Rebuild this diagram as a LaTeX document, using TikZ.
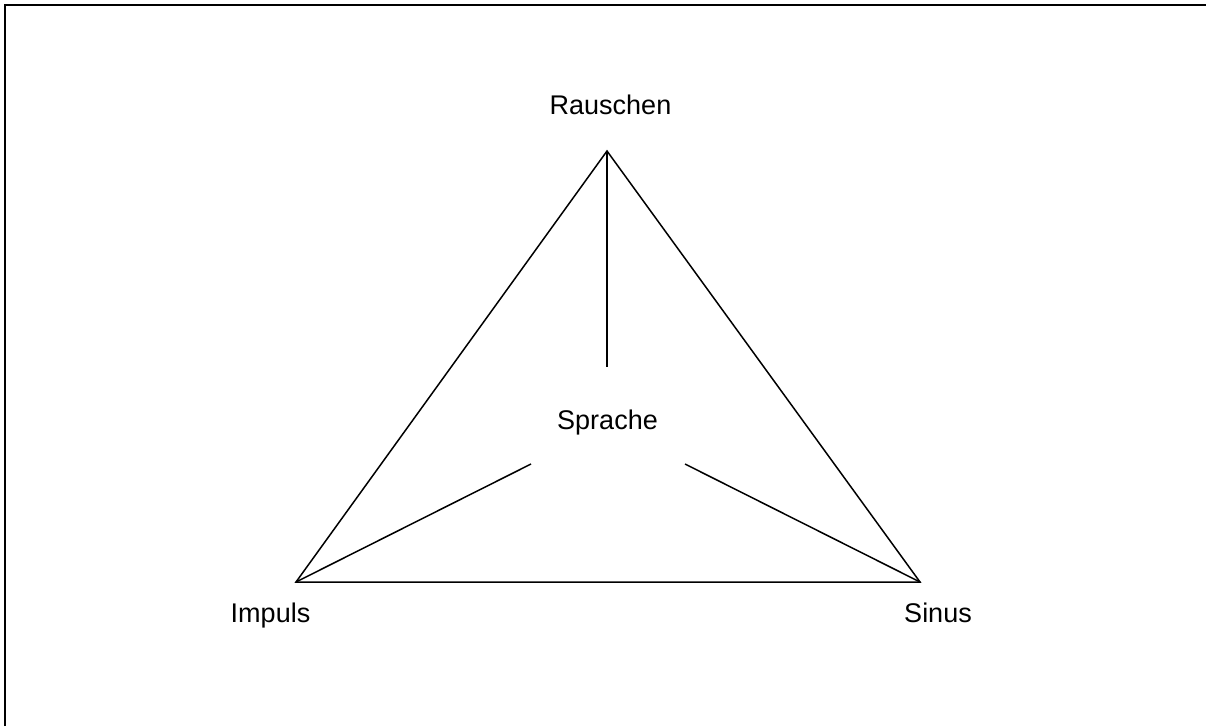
\documentclass[tikz,border=0pt]{standalone}
\usepackage{fontspec}
\setmainfont{Liberation Sans}
\usetikzlibrary{positioning}

\begin{document}
\begin{tikzpicture}[
  x=1pt, y=-1pt,
  every node/.style={font=\fontsize{27}{31}\selectfont},
  label/.style={inner sep=0pt, anchor=base},
  edge/.style={line width=1.5pt, color=black},
]
\useasboundingbox (0,0) rectangle (1206,726);

% frame (top and left only)
\draw[line width=2.5pt] (5,726) -- (5,5) -- (1206,5);

% corners of the triangle
\coordinate (rausch) at (607,151);
\coordinate (impuls) at (296,582);
\coordinate (sinus)  at (920,582);

% labels
\node[label] (lrausch) at (610.5,114) {Rauschen};
\node[label] (limpuls) at (270.5,622) {Impuls};
\node[label] (lsinus)  at (938,622)   {Sinus};
\node[label] (sprache) at (607.5,429) {Sprache};

% inner ends of the spokes
\coordinate (sptop)   at (607,367);
\coordinate (spleft)  at (531,464);
\coordinate (spright) at (685,464);

% triangle
\draw[edge] (rausch) -- (impuls) -- (sinus) -- cycle;

% spokes to the centre
\draw[edge] (rausch) -- (sptop);
\draw[edge] (impuls) -- (spleft);
\draw[edge] (sinus)  -- (spright);

\end{tikzpicture}
\end{document}
